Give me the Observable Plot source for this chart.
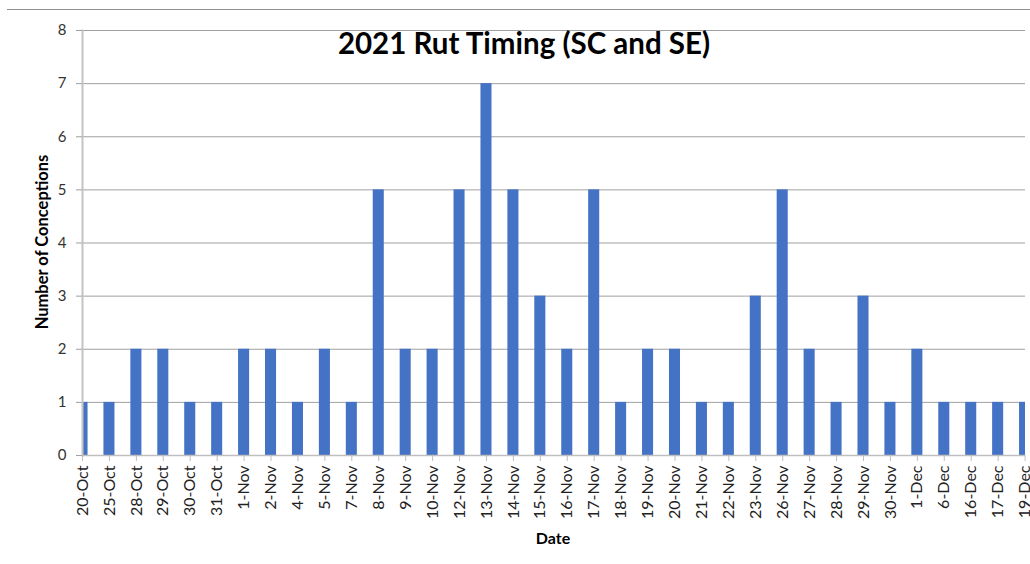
<!DOCTYPE html>
<html>
<head>
<meta charset="utf-8">
<script src="https://cdn.jsdelivr.net/npm/d3@7"></script>
<script src="https://cdn.jsdelivr.net/npm/@observablehq/plot@0.6"></script>
<style>
  html, body { margin: 0; padding: 0; background: #fff; }
  #wrap { position: relative; width: 1030px; height: 564px; overflow: hidden; font-family: Lato, "Open Sans", sans-serif; }
  #border { position: absolute; left: 7px; right: 0; top: 9px; border-top: 1px solid #8f8f8f; }
  #title { position: absolute; left: 274px; width: 500px; top: 25px; text-align: center; font-weight: bold; font-size: 29.5px; line-height: 1.2; color: #000; white-space: nowrap; }
  #ylab { position: absolute; left: 42px; top: 242px; transform: translate(-50%, -50%) rotate(-90deg); font-weight: bold; font-size: 16.5px; color: #000; white-space: nowrap; }
  #xlab { position: absolute; left: 553px; top: 537px; transform: translate(-50%, -50%); font-weight: bold; font-size: 16px; color: #000; }
  #chart { position: absolute; left: 0; top: 0; }
</style>
</head>
<body>
<div id="wrap">
  <div id="border"></div>
  <div id="chart"></div>
  <div id="title">2021 Rut Timing (SC and SE)</div>
  <div id="ylab">Number of Conceptions</div>
  <div id="xlab">Date</div>
</div>
<script>
const dates = ["20-Oct","25-Oct","28-Oct","29-Oct","30-Oct","31-Oct","1-Nov","2-Nov","4-Nov","5-Nov","7-Nov","8-Nov","9-Nov","10-Nov","12-Nov","13-Nov","14-Nov","15-Nov","16-Nov","17-Nov","18-Nov","19-Nov","20-Nov","21-Nov","22-Nov","23-Nov","26-Nov","27-Nov","28-Nov","29-Nov","30-Nov","1-Dec","6-Dec","16-Dec","17-Dec","19-Dec"];
const conceptions = [1,1,2,2,1,1,2,2,1,2,1,5,2,2,5,7,5,3,2,5,1,2,2,1,1,3,5,2,1,3,1,2,1,1,1,1];
const yTicks = [0,1,2,3,4,5,6,7,8];

const data = dates.map((d, i) => ({date: d, n: conceptions[i]}));

const chart = Plot.plot({
  width: 1030,
  height: 564,
  marginLeft: 82,
  marginRight: 5,
  marginTop: 30,
  marginBottom: 109,
  style: { fontFamily: "Lato, 'Open Sans', sans-serif", background: "transparent" },
  x: { domain: dates, range: [76.5, 1030.1], paddingInner: 0.59, paddingOuter: 0, label: null },
  y: { domain: [0, 8], label: null },
  marks: [
    Plot.gridY(yTicks, { stroke: "#a0a0a0", strokeOpacity: 1, strokeWidth: 1 }),
    Plot.barY(data, { x: "date", y: "n", fill: "#4472C4", clip: true }),
    Plot.ruleY([0], { stroke: "#bfbfbf", strokeWidth: 1.5 }),
    Plot.frame({ anchor: "left", stroke: "#c4c4c4", strokeWidth: 2 }),
    Plot.axisY(yTicks, { tickSize: 6, tickPadding: 10, stroke: "#a0a0a0", fontSize: 15, fill: "#333", tickFormat: d3.format("d"), label: null }),
    Plot.axisX({ tickSize: 6, tickPadding: 4, tickRotate: -90, stroke: "#bfbfbf", fontSize: 16, fill: "#222", label: null })
  ]
});
document.getElementById("chart").appendChild(chart);
</script>
</body>
</html>
